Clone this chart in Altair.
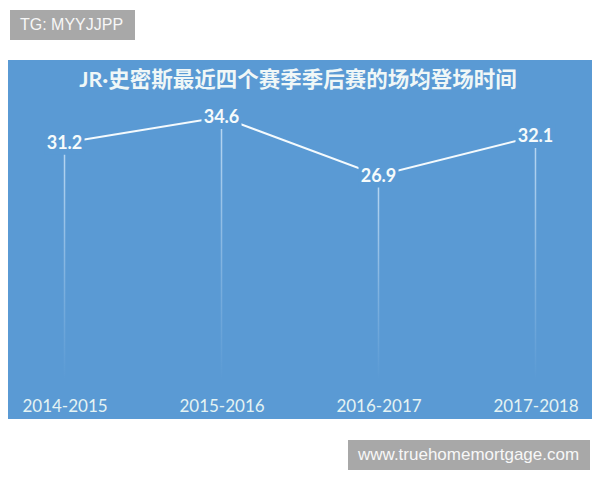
import altair as alt
import pandas as pd

seasons = ["2014-2015", "2015-2016", "2016-2017", "2017-2018"]
minutes = [31.2, 34.6, 26.9, 32.1]
title_text = ["JR·史密斯最近四个赛季季后赛的场均登场时间"]
watermark_top = ["TG: MYYJJPP"]
watermark_bottom = ["www.truehomemortgage.com"]

BLUE = "#5a9ad4"

df = pd.DataFrame({"season": seasons, "minutes": minutes})

x = alt.X(
    "season:N",
    sort=seasons,
    scale=alt.Scale(type="point", padding=0.36),
    axis=alt.Axis(
        title=None, domain=False, ticks=False, grid=False, labelAngle=0,
        labelPadding=-21, labelFont="Lato", labelFontSize=17,
        labelColor="#e4f3f3",
    ),
)
y = alt.Y(
    "minutes:Q",
    scale=alt.Scale(domain=[-5.13, 42.1], nice=False, zero=False),
    axis=None,
)
base = alt.Chart(df).encode(x=x, y=y)

grad = alt.Gradient(
    gradient="linear",
    stops=[
        alt.GradientStop(color="rgba(205,228,248,0.85)", offset=0),
        alt.GradientStop(color="rgba(205,228,248,0.3)", offset=0.6),
        alt.GradientStop(color="rgba(205,228,248,0.0)", offset=1),
    ],
    x1=0, x2=0, y1=0, y2=1,
)

drops = base.mark_bar(size=1.5, fill=grad).encode(y2=alt.datum(0))
line = base.mark_line(color="#f4fafd", strokeWidth=2)
mask = base.mark_point(
    shape="M-1,-0.6L1,-0.6L1,0.6L-1,0.6Z", size=1600, filled=True,
    color=BLUE, opacity=1, strokeWidth=0,
)
labels = base.mark_text(
    font="Lato", fontWeight="bold", fontSize=18, color="#f6fbfb",
    baseline="middle", dy=1,
).encode(text=alt.Text("minutes:Q", format=".1f"))

title_df = pd.DataFrame({"t": title_text})
title = alt.Chart(title_df).mark_text(
    align="center", baseline="middle", font="Lato, Noto Sans CJK SC",
    fontSize=21.5, fontWeight="bold", color="#f0f7f7",
).encode(x=alt.value(290), y=alt.value(21), text="t:N")

wm_top_df = pd.DataFrame({"t": watermark_top})
wm_bot_df = pd.DataFrame({"t": watermark_bottom})

wm_top_box = alt.Chart(wm_top_df).mark_rect(color="#a8a8a8").encode(
    x=alt.value(2), x2=alt.value(127), y=alt.value(-50), y2=alt.value(-20)
)
wm_top_txt = alt.Chart(wm_top_df).mark_text(
    align="left", baseline="middle", font="Liberation Sans", fontSize=16,
    color="#f7f7f7",
).encode(x=alt.value(12), y=alt.value(-35), text="t:N")

wm_bot_box = alt.Chart(wm_bot_df).mark_rect(color="#a8a8a8").encode(
    x=alt.value(340), x2=alt.value(582), y=alt.value(380), y2=alt.value(410)
)
wm_bot_txt = alt.Chart(wm_bot_df).mark_text(
    align="left", baseline="middle", font="Liberation Sans", fontSize=17,
    color="#f7f7f7",
).encode(x=alt.value(350), y=alt.value(395), text="t:N")

chart = alt.layer(
    drops, line, mask, labels, title,
    wm_top_box, wm_top_txt, wm_bot_box, wm_bot_txt
).properties(
    width=584,
    height=359,
    autosize=alt.AutoSizeParams(type="none"),
    padding={"left": 0, "top": 52, "right": 0, "bottom": 53},
    background="white",
).configure_view(fill=BLUE, strokeWidth=0)

chart.save("out.html", embed_options={"renderer": "svg", "actions": False})
